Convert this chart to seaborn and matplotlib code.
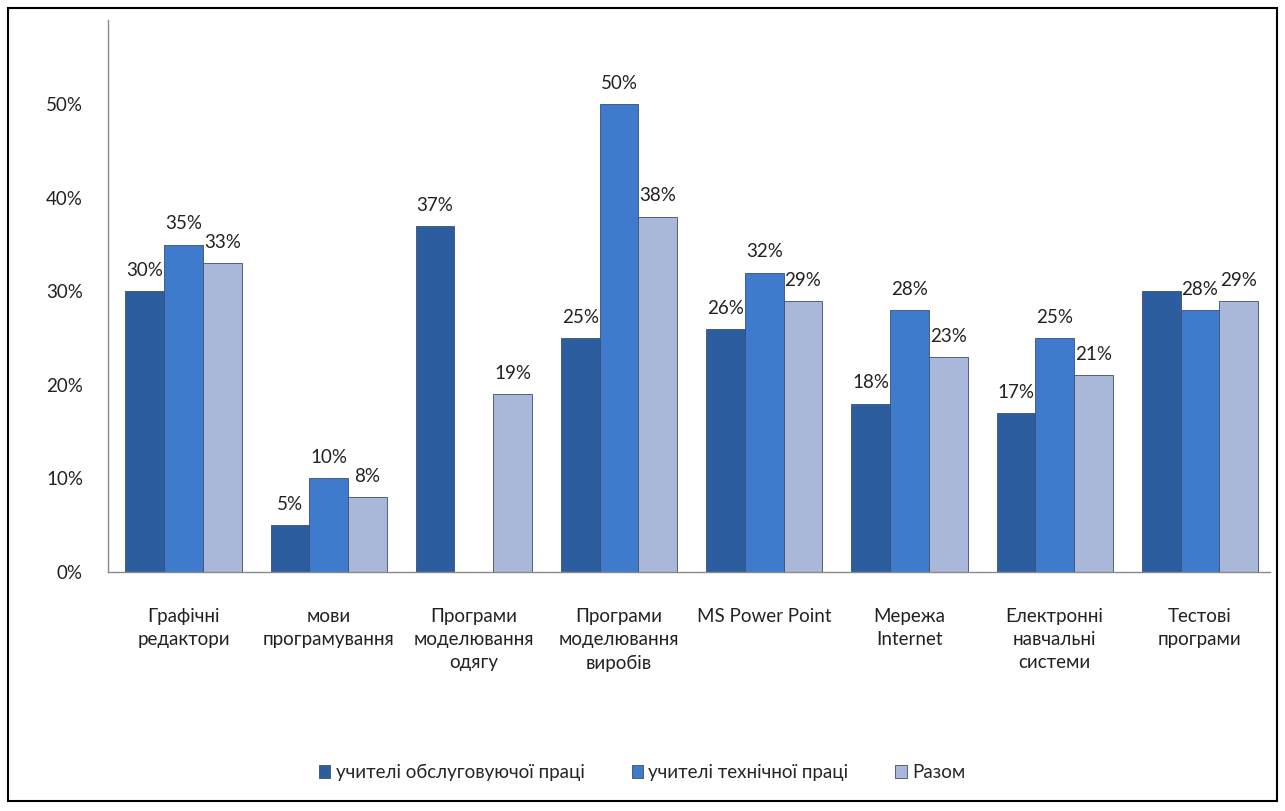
import matplotlib
matplotlib.use("Agg")
import matplotlib.pyplot as plt
import seaborn as sns
import pandas as pd
import numpy as np
from matplotlib.patches import Rectangle
from matplotlib.ticker import FuncFormatter

categories = ["Графічні\nредактори", "мови\nпрограмування", "Програми\nмоделювання\nодягу",
              "Програми\nмоделювання\nвиробів", "MS Power Point", "Мережа\nInternet",
              "Електронні\nнавчальні\nсистеми", "Тестові\nпрограми"]
series = ["учителі обслуговуючої праці", "учителі технічної праці", "Разом"]
s1 = [30, 5, 37, 25, 26, 18, 17, 30]
s2 = [35, 10, np.nan, 50, 32, 28, 25, 28]
s3 = [33, 8, 19, 38, 29, 23, 21, 29]
labels1 = ["30%", "5%", "37%", "25%", "26%", "18%", "17%", ""]
labels2 = ["35%", "10%", "", "50%", "32%", "28%", "25%", "28%"]
labels3 = ["33%", "8%", "19%", "38%", "29%", "23%", "21%", "29%"]
colors = ["#2C5D9E", "#3E7BCC", "#A9B8D8"]
yticks = [0, 10, 20, 30, 40, 50]

rows = []
for name, vals in zip(series, [s1, s2, s3]):
    for c, v in zip(categories, vals):
        rows.append({"cat": c, "series": name, "value": v})
df = pd.DataFrame(rows)

sns.set_theme(style="white")
plt.rcParams["font.family"] = ["Lato", "DejaVu Sans"]

fig = plt.figure(figsize=(12.85, 8.11), dpi=100)
ax = fig.add_axes([0.084, 0.295, 0.904, 0.68])

sns.barplot(data=df, x="cat", y="value", hue="series", order=categories,
            hue_order=series, palette=colors, width=0.8, ax=ax,
            edgecolor="#3a4f70", linewidth=0.6, saturation=1, legend=True)

label_map = dict(zip(series, [labels1, labels2, labels3]))
for cont, name in zip(ax.containers, series):
    for bar in cont:
        h = bar.get_height()
        if not np.isfinite(h):
            continue
        idx = int(round(bar.get_x() + bar.get_width() / 2))
        lab = label_map[name][idx]
        if lab:
            ax.text(bar.get_x() + bar.get_width() / 2, h + 1.3, lab,
                    ha="center", va="bottom", fontsize=13.5, color="#222222")

ax.set_ylim(0, 59)
ax.set_yticks(yticks)
ax.yaxis.set_major_formatter(FuncFormatter(lambda v, p: f"{v:.0f}%"))
ax.set_xlabel("")
ax.set_ylabel("")
ax.tick_params(axis="x", pad=26, labelsize=13.5, length=0, colors="#222222")
ax.tick_params(axis="y", pad=18, labelsize=13.5, length=0, colors="#222222")
for t in ax.get_xticklabels():
    t.set_linespacing(1.45)
for s in ["top", "right"]:
    ax.spines[s].set_visible(False)
for s in ["left", "bottom"]:
    ax.spines[s].set_color("#8a8a8a")
    ax.spines[s].set_linewidth(1)
ax.set_xlim(-0.52, 7.48)

ax.legend(loc="center", bbox_to_anchor=(0.46, -0.364), ncol=3, frameon=False,
          fontsize=13.5, handlelength=0.6, handleheight=0.7, columnspacing=2.5,
          handletextpad=0.3)

fig.patches.append(Rectangle((0.006, 0.012), 0.988, 0.978, transform=fig.transFigure,
                             fill=False, edgecolor="black", linewidth=1.5))

fig.savefig("out.png", dpi=100, facecolor="white")
